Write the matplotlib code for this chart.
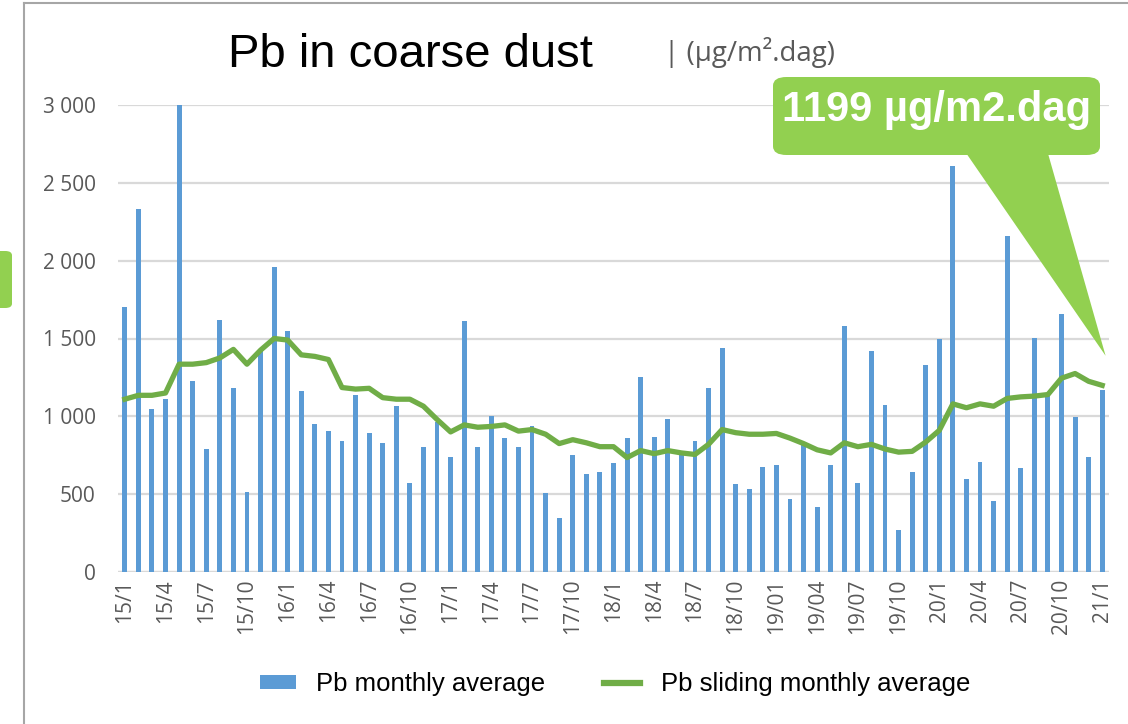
import matplotlib
matplotlib.use("Agg")
import matplotlib.pyplot as plt
from matplotlib.patches import FancyBboxPatch, Polygon, Rectangle
from matplotlib.lines import Line2D
from matplotlib.ticker import FuncFormatter

# Maandwaarden Pb (µg/m².dag), 2015/1 t/m 2021/1
maand_gemiddelde = [
    1700, 2330, 1050, 1110, 3000, 1225, 790, 1620, 1185, 515, 1420, 1960,
    1545, 1160, 950, 905, 840, 1135, 890, 830, 1065, 570, 800, 965,
    740, 1615, 805, 1005, 860, 805, 940, 505, 345, 750, 630, 645,
    700, 860, 1250, 870, 980, 765, 840, 1185, 1440, 565, 530, 675,
    690, 470, 815, 415, 690, 1580, 570, 1420, 1075, 270, 645, 1330,
    1495, 2610, 600, 705, 455, 2160, 665, 1505, 1130, 1655, 995, 740,
    1170,
]
glijdend_gemiddelde = [
    1110, 1135, 1135, 1150, 1335, 1335, 1345, 1375, 1430, 1335, 1425, 1500,
    1490, 1395, 1385, 1365, 1185, 1175, 1180, 1120, 1110, 1110, 1065, 980,
    900, 945, 930, 935, 945, 905, 915, 885, 825, 850, 830, 805,
    805, 735, 780, 760, 780, 765, 755, 820, 915, 895, 885, 885,
    890, 860, 825, 785, 765, 830, 805, 820, 790, 770, 775, 835,
    910, 1080, 1055, 1080, 1065, 1115, 1125, 1130, 1140, 1245, 1275, 1225,
    1199,
]
tick_labels = [
    "15/1", "15/4", "15/7", "15/10", "16/1", "16/4", "16/7", "16/10",
    "17/1", "17/4", "17/7", "17/10", "18/1", "18/4", "18/7", "18/10",
    "19/01", "19/04", "19/07", "19/10", "20/1", "20/4", "20/7", "20/10", "21/1",
]
callout_tekst = "1199 µg/m2.dag"

blauw = "#5B9BD5"
groen = "#70AD47"
licht_groen = "#92D050"
grijs = "#595959"

W, H = 1128, 724
fig = plt.figure(figsize=(W / 100, H / 100), dpi=100)
ax = fig.add_axes([118 / W, 1 - 572 / H, (1109 - 118) / W, (572 - 105) / H])

x = list(range(len(maand_gemiddelde)))
ax.bar(x, maand_gemiddelde, width=0.36, color=blauw, zorder=2)
ax.plot(x, glijdend_gemiddelde, color=groen, linewidth=3.8, zorder=3,
        solid_joinstyle="round")

ax.set_xlim(-0.5, len(x) - 0.5)
ax.set_ylim(0, 3000)
ax.set_yticks(range(0, 3001, 500))
ax.yaxis.set_major_formatter(FuncFormatter(lambda v, p: f"{v:,.0f}".replace(",", " ")))
ax.set_xticks(x[::3])
ax.set_xticklabels(tick_labels, rotation=90)
ax.grid(axis="y", color="#D9D9D9", linewidth=1.6, zorder=0)
for s in ax.spines.values():
    s.set_visible(False)
ax.tick_params(axis="both", length=0, colors=grijs, labelsize=15)
ax.tick_params(axis="y", pad=16)
ax.tick_params(axis="x", pad=5)
for lbl in ax.get_xticklabels() + ax.get_yticklabels():
    lbl.set_fontfamily("Open Sans")
ax.axhline(0, color="#D9D9D9", linewidth=1.6, zorder=1)

# titel
fig.text(410 / W, 1 - 55 / H, "Pb in coarse dust", ha="center", va="center",
         fontsize=34, family="Liberation Sans", color="black")
fig.text(664 / W, 1 - 52 / H, "| (µg/m².dag)", ha="left", va="center",
         fontsize=20, family="Open Sans", color=grijs)

# callout bij laatste waarde
box = FancyBboxPatch((773 / W, 1 - 155 / H), (1100 - 773) / W, (155 - 77) / H,
                     boxstyle="round,pad=0,rounding_size=0.012",
                     transform=fig.transFigure, facecolor=licht_groen,
                     edgecolor="none", zorder=5)
fig.patches.append(box)
tip = fig.transFigure.inverted().transform(
    ax.transData.transform((x[-1] + 0.25, glijdend_gemiddelde[-1] + 190)))
pointer = Polygon([(964 / W, 1 - 150 / H), (1047 / W, 1 - 150 / H), tuple(tip)],
                  closed=True, transform=fig.transFigure, facecolor=licht_groen,
                  edgecolor="none", zorder=5)
fig.patches.append(pointer)
fig.text(937 / W, 1 - 110 / H, callout_tekst, ha="center", va="center",
         fontsize=30, fontweight="bold", family="Liberation Sans",
         color="white", zorder=6)

# klein groen vlak links en kader
fig.patches.append(FancyBboxPatch((-10 / W, 1 - 308 / H), 22 / W, 57 / H,
                                  boxstyle="round,pad=0,rounding_size=0.006",
                                  transform=fig.transFigure,
                                  facecolor=licht_groen, edgecolor="none"))
fig.add_artist(Line2D([24 / W, 24 / W], [0, 1 - 3 / H], color="#A6A6A6",
                      linewidth=1.5, transform=fig.transFigure))
fig.add_artist(Line2D([24 / W, 1], [1 - 3 / H, 1 - 3 / H], color="#A6A6A6",
                      linewidth=1.5, transform=fig.transFigure))

# legenda
handles = [Rectangle((0, 0), 1, 1, facecolor=blauw, edgecolor="none"),
           Line2D([0], [0], color=groen, linewidth=4.5)]
fig.legend(handles, ["Pb monthly average", "Pb sliding monthly average"],
           loc="center", bbox_to_anchor=(615 / W, 1 - 684 / H), ncol=2,
           frameon=False, prop={"family": "Liberation Sans", "size": 18.5},
           handlelength=1.4, handleheight=0.45, handletextpad=0.8,
           columnspacing=2.3)

fig.savefig("out.png", dpi=100)
